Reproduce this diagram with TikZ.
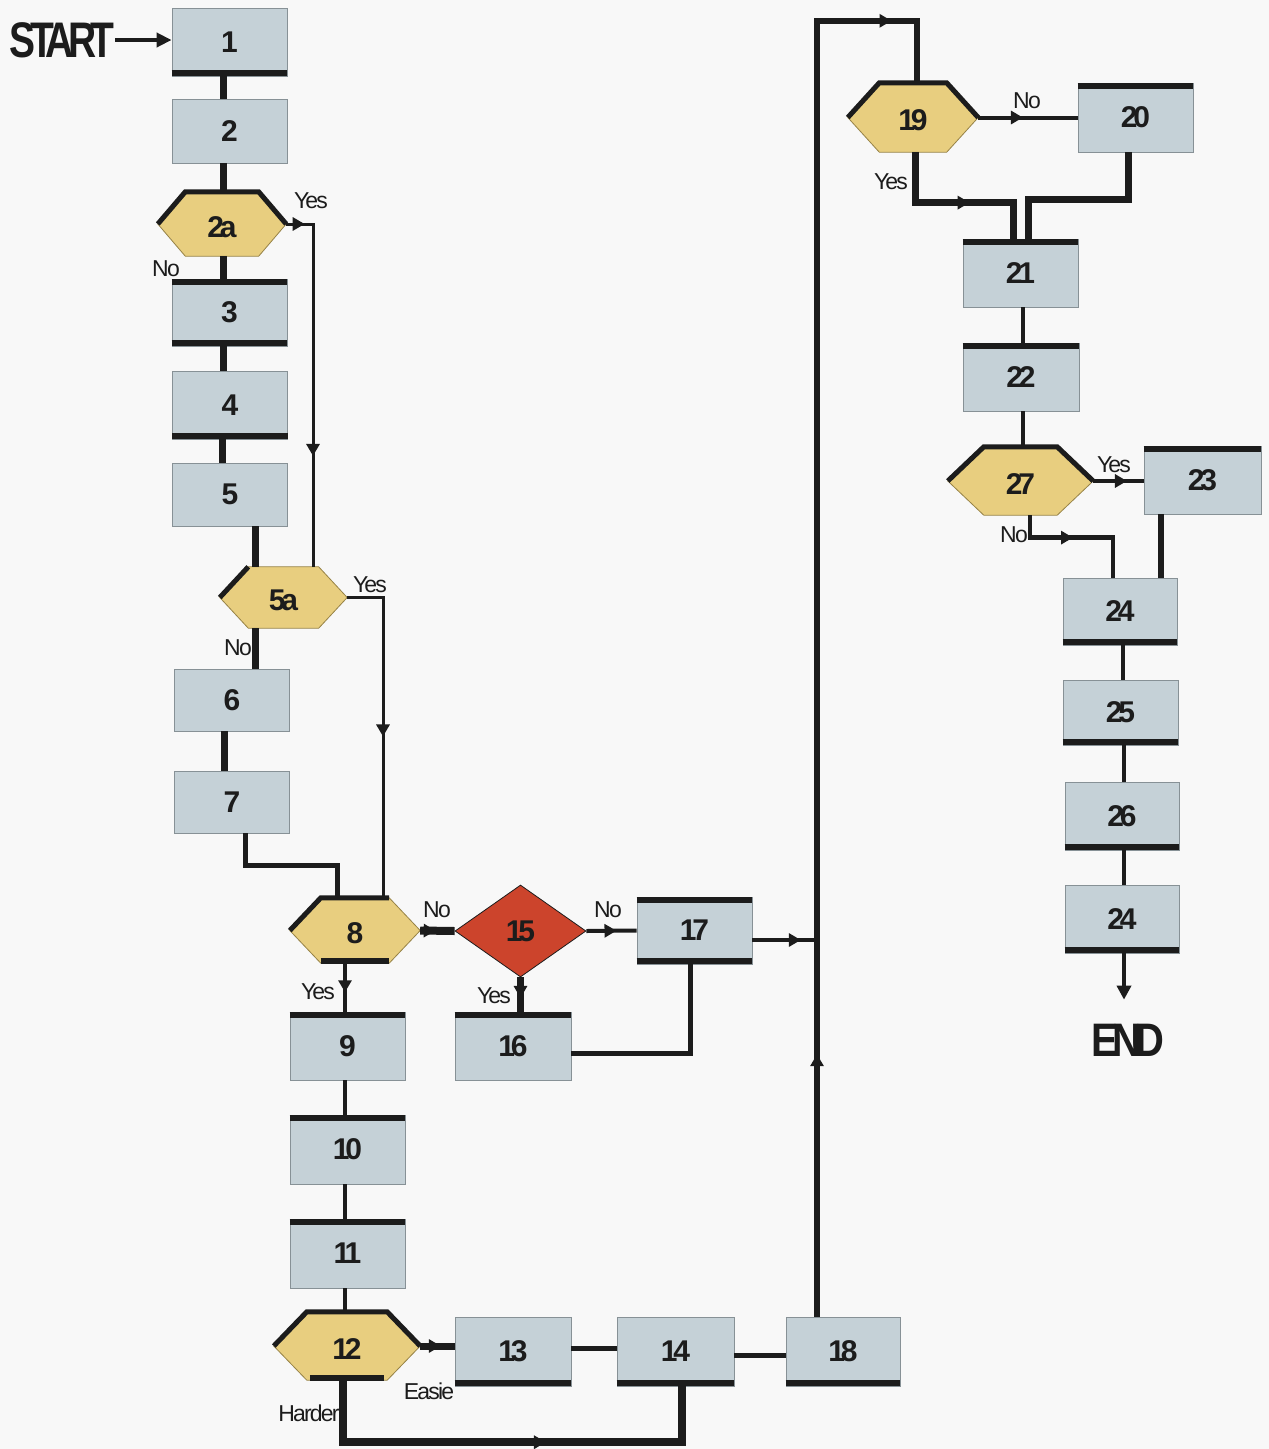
\documentclass[tikz,border=0pt]{standalone}
\usepackage{graphicx}
\usepackage{fontspec}
\setmainfont{Liberation Sans}
\newfontfamily\numf{Liberation Sans}[LetterSpace=-14]
\newfontfamily\labf{Liberation Sans}[LetterSpace=-8]
\newfontfamily\bigf{Liberation Sans}[LetterSpace=-14]
\usetikzlibrary{calc,arrows.meta,decorations.markings,shapes.geometric}

\definecolor{bgcol}{RGB}{248,248,248}
\definecolor{boxfill}{RGB}{197,209,215}
\definecolor{boxedge}{RGB}{135,145,150}
\definecolor{hexyellow}{RGB}{232,206,127}
\definecolor{hexedge}{RGB}{150,130,70}
\definecolor{redfill}{RGB}{204,68,44}
\definecolor{ink}{RGB}{28,28,28}

\newcommand\hexa[7]{%
  \node[hexbox, minimum width=#4pt, minimum height=#5pt] (#1) at (#2,#3) {};
  \path[hexshape] (#1.west) -- ($(#1.north west)+(#7,0)$) -- ($(#1.north east)+(-#7,0)$) -- (#1.east)
     -- ($(#1.south east)+(-#7,0)$) -- ($(#1.south west)+(#7,0)$) -- cycle;
  \node[numtext] (#1t) at ($(#1.center)+(0,3)$) {#6};
}
\newcommand\hexup[2]{\draw[hexthick] (#1.west) -- ($(#1.north west)+(#2,0)$) -- ($(#1.north east)+(-#2,0)$) -- (#1.east);}
\newcommand\topbar[1]{\draw[bar] ([yshift=-3pt]#1.north west) -- ([yshift=-3pt]#1.north east);}
\newcommand\botbar[1]{\draw[bar] ([yshift=3pt]#1.south west) -- ([yshift=3pt]#1.south east);}

\begin{document}
\begin{tikzpicture}[x=1pt,y=-1pt,
  pbox/.style={draw=boxedge, line width=0.8pt, fill=boxfill, inner sep=0pt,
     minimum width=115pt, minimum height=68pt,
     font=\fontsize{30pt}{30pt}\numf\bfseries, text=ink},
  hexbox/.style={inner sep=0pt, draw=none},
  hexshape/.style={fill=hexyellow, draw=hexedge, line width=0.8pt},
  hexthick/.style={draw=ink, line width=5pt},
  numtext/.style={inner sep=0pt, font=\fontsize{30pt}{30pt}\numf\bfseries, text=ink},
  bar/.style={draw=ink, line width=6pt},
  conn/.style={draw=ink, line width=5pt},
  wideconn/.style={draw=ink, line width=7pt},
  thinconn/.style={draw=ink, line width=3pt},
  lab/.style={inner sep=0pt, font=\fontsize{23pt}{23pt}\labf, text=ink},
  arrowat/.style={postaction={decorate, decoration={markings,
     mark=at position #1 with {\arrow{Triangle[length=12pt,width=13pt]}}}}},
]
\fill[bgcol] (0,0) rectangle (1269,1449);
\useasboundingbox (0,0) rectangle (1269,1449);

% ---------- boxes
\node[pbox] (b1) at (229.5,42) {1};
\node[pbox, minimum height=64pt] (b2) at (229.5,131) {2};
\node[pbox, minimum height=67pt] (b3) at (229.5,312.5) {3};
\node[pbox] (b4) at (230,405) {4};
\node[pbox, minimum height=63pt] (b5) at (230,494.5) {5};
\node[pbox, minimum height=62pt] (b6) at (232,700) {6};
\node[pbox, minimum height=62pt] (b7) at (232,802) {7};
\node[pbox] (b9) at (347.5,1046) {9};
\node[pbox, minimum height=69pt] (b10) at (347.5,1149.5) {10};
\node[pbox, minimum height=69pt] (b11) at (347.5,1253.5) {11};
\node[pbox, minimum width=116pt, minimum height=69pt] (b13) at (513,1351.5) {13};
\node[pbox, minimum width=117pt, minimum height=69pt] (b14) at (675.5,1351.5) {14};
\node[pbox, minimum width=116pt] (b16) at (513,1046) {16};
\node[pbox, minimum height=67pt] (b17) at (694.5,930.5) {17};
\node[pbox, minimum width=114pt, minimum height=69pt] (b18) at (843,1351.5) {18};
\node[pbox, minimum height=69pt] (b20) at (1135.5,117.5) {20};
\node[pbox] (b21) at (1020.5,273) {21};
\node[pbox, minimum width=116pt] (b22) at (1021,377) {22};
\node[pbox, minimum width=117pt] (b23) at (1202.5,480) {23};
\node[pbox, minimum width=114pt, minimum height=67pt] (b24) at (1120,611.5) {24};
\node[pbox, minimum height=65pt] (b25) at (1120.5,712.5) {25};
\node[pbox, minimum width=114pt] (b26) at (1122,816) {26};
\node[pbox, minimum width=114pt] (b24b) at (1122,919) {24};

% ---------- decisions
\hexa{h2a}{222}{224}{128}{64}{2a}{27.5}
\hexa{h5a}{283.5}{597.5}{127}{61}{5a}{28.5}
\hexa{h8}{355}{930.5}{130}{65}{8}{31}
\hexa{h12}{347}{1346}{146}{68}{12}{33}
\hexa{h19}{913}{117.5}{130}{69}{19}{31.5}
\hexa{h27}{1020.5}{481}{145}{68}{27}{36}
\node[diamond, draw=ink, line width=0.8pt, fill=redfill, inner sep=0pt,
      minimum width=131pt, minimum height=92pt,
      font=\fontsize{30pt}{30pt}\numf\bfseries, text=ink] (d15) at (520.5,931) {15};

% ---------- thick edges
\hexup{h2a}{27.5}
\draw[hexthick] (h5a.west) -- ($(h5a.north west)+(28.5,0)$);
\draw[hexthick] (h8.west) -- ($(h8.north west)+(31,0)$) -- ($(h8.north east)+(-31,0)$);
\draw[bar] ([yshift=2pt]$(h8.south west)+(31,0)$) -- ([yshift=2pt]$(h8.south east)+(-31,0)$);
\hexup{h12}{33}
\draw[bar] ([yshift=2pt]$(h12.south west)+(36,0)$) -- ([yshift=2pt]$(h12.south east)+(-36,0)$);
\hexup{h19}{31.5}
\hexup{h27}{36}
\botbar{b1}
\topbar{b3}\botbar{b3}
\botbar{b4}
\topbar{b9}\topbar{b10}\topbar{b11}
\botbar{b13}\botbar{b14}
\topbar{b16}
\topbar{b17}\botbar{b17}
\botbar{b18}
\topbar{b20}\topbar{b21}\topbar{b22}\topbar{b23}
\botbar{b24}\botbar{b25}\botbar{b26}\botbar{b24b}

% ---------- start / end
\node[anchor=east, inner sep=0pt, font=\fontsize{50pt}{50pt}\bigf\bfseries, text=ink] (start) at (115,40) {\scalebox{0.78}[1]{START}};
\node[inner sep=0pt, font=\fontsize{47pt}{47pt}\bigf\bfseries, text=ink] (endn) at (1128,1040) {\scalebox{0.85}[1]{END}};
\draw[conn, line width=4pt, -{Triangle[length=15pt,width=14pt]}] (start.east) -- (start.east -| b1.west);

% ---------- connectors, left column
\draw[wideconn] ($(b1.south)+(-6.5,0)$) -- ($(b2.north)+(-6.5,0)$);
\draw[wideconn] ($(b2.south)+(-6.5,0)$) -- ($(h2a.north)+(1,0)$);
\draw[wideconn] ($(h2a.south)+(1,0)$) -- ($(b3.north)+(-6.5,0)$);
\draw[wideconn] ($(b3.south)+(-6.5,0)$) -- ($(b4.north)+(-7,0)$);
\draw[wideconn] ($(b4.south)+(-8,0)$) -- ($(b5.north)+(-8,0)$);
\draw[wideconn] ($(b5.south)+(25,0)$) -- ($(h5a.north)+(-28.5,0)$);
\draw[wideconn] ($(h5a.south)+(-28.5,0)$) -- ($(b6.north)+(23,0)$);
\draw[wideconn] ($(b6.south)+(-8,0)$) -- ($(b7.north)+(-8,0)$);
\draw[conn] ($(b7.south)+(13,0)$) -- ++(0,32) -| ($(h8.north)+(-18,0)$);
\draw[thinconn, arrowat=0.05, arrowat=0.70] (h2a.east) -| ($(h5a.north)+(29.5,0)$);
\draw[thinconn, arrowat=0.52] (h5a.east) -| ($(h8.north)+(28,0)$);

% ---------- middle
\draw[conn, line width=8pt, arrowat=0.45] (h8.east) -- (d15.west);
\draw[conn, line width=4pt, arrowat=0.6] (d15.east) -- (b17.west);
\draw[wideconn, arrowat=0.6] (d15.south) -- (d15.south |- b16.north);
\draw[conn] ($(b16.east)+(0,7)$) -| ($(b17.south)+(-4.5,0)$);
\draw[conn, line width=4pt, arrowat=0.6] ($(h8.south)+(-10,0)$) -- ($(b9.north)+(-2.5,0)$);
\draw[conn, line width=4pt] ($(b9.south)+(-2.5,0)$) -- ($(b10.north)+(-2.5,0)$);
\draw[conn, line width=4pt] ($(b10.south)+(-2.5,0)$) -- ($(b11.north)+(-2.5,0)$);
\draw[conn, line width=4pt] ($(b11.south)+(-2.5,0)$) -- ($(h12.north)+(-2,0)$);
\draw[wideconn, arrowat=0.6] (h12.east) -- (h12.east -| b13.west);
\draw[conn] ($(b13.east)+(0,-3.5)$) -- ($(b14.west)+(0,-3.5)$);
\draw[conn] ($(b14.east)+(0,3.5)$) -- ($(b18.west)+(0,3.5)$);
\draw[conn, line width=8pt, arrowat=0.58] ($(h12.south)+(-4,0)$) -- ++(0,62) -| ($(b14.south)+(6.5,0)$);

% ---------- riser
\coordinate (riser) at ($(b18.north)+(-26,0)$);
\coordinate (j17) at ($(riser |- b17.east)+(0,9.5)$);
\draw[conn, line width=5.5pt, arrowat=0.18, arrowat=0.94] (riser) |- ($(h19.north)+(4,-62)$) -- ($(h19.north)+(4,0)$);
\draw[conn, line width=4.5pt, arrowat=0.75] ($(b17.east)+(0,9.5)$) -- (j17);

% ---------- right part
\draw[conn, line width=4pt, arrowat=0.45] (h19.east) -- (h19.east -| b20.west);
\draw[wideconn, arrowat=0.57] ($(h19.south)+(2,0)$) |- ($(b21.north)+(-7.5,-36)$) -- ($(b21.north)+(-7.5,0)$);
\draw[wideconn] ($(b20.south)+(-7.5,0)$) |- ($(b21.north)+(7.5,-39)$) -- ($(b21.north)+(7.5,0)$);
\draw[conn, line width=4pt] ($(b21.south)+(2.5,0)$) -- ($(b22.north)+(2,0)$);
\draw[conn, line width=4pt] ($(b22.south)+(2,0)$) -- ($(h27.north)+(2.5,0)$);
\draw[conn, line width=4pt, arrowat=0.67] (h27.east) -- (h27.east -| b23.west);
\draw[conn, line width=4.5pt, arrowat=0.45] ($(h27.south)+(9.5,0)$) |- ($(b24.north)+(-7,-40)$) -- ($(b24.north)+(-7,0)$);
\draw[conn, line width=6pt] ($(b23.south)+(-41.5,0)$) -- ($(b24.north)+(41,0)$);
\draw[conn, line width=4pt] ($(b24.south)+(3,0)$) -- ($(b25.north)+(2.5,0)$);
\draw[conn, line width=4pt] ($(b25.south)+(3.5,0)$) -- ($(b26.north)+(2,0)$);
\draw[conn, line width=4pt] ($(b26.south)+(2,0)$) -- ($(b24b.north)+(2,0)$);
\draw[conn, line width=4pt, shorten >=24pt, -{Triangle[length=14pt,width=14pt]}] ($(b24b.south)+(2,0)$) -- ($(endn.north)+(-4,0)$);

% ---------- labels
\node[lab] (l2ay) at (311,201) {Yes};
\node[lab] (l2an) at (166,269) {No};
\node[lab] (l5ay) at (370,585) {Yes};
\node[lab] (l5an) at (238,648) {No};
\node[lab] (l8n) at (437,910) {No};
\node[lab] (l15n) at (608,910) {No};
\node[lab] (l8y) at (318,992) {Yes};
\node[lab] (l15y) at (494,996) {Yes};
\node[lab] (l12e) at (429,1391) {Easie};
\node[lab] (l12h) at (309,1413) {Harder};
\node[lab] (l19n) at (1027,101) {No};
\node[lab] (l19y) at (891,182) {Yes};
\node[lab] (l27y) at (1114,465) {Yes};
\node[lab] (l27n) at (1014,535) {No};
\end{tikzpicture}
\end{document}
